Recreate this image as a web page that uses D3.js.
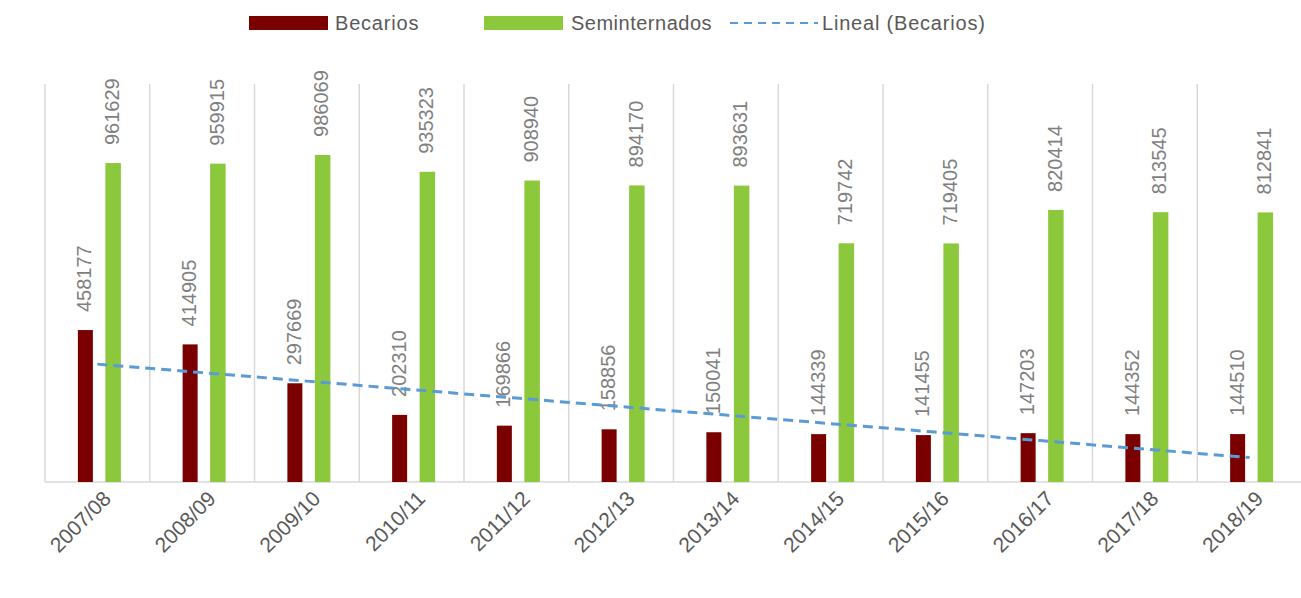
<!DOCTYPE html>
<html>
<head>
<meta charset="utf-8">
<script src="https://cdn.jsdelivr.net/npm/d3@7/dist/d3.min.js"></script>
<style>
  html, body { margin: 0; padding: 0; background: #ffffff; }
  svg { display: block; }
  text { font-family: "Liberation Sans", Arial, sans-serif; }
</style>
</head>
<body>
<svg id="chart" width="1301" height="598"></svg>
<script>
const categories = ["2007/08","2008/09","2009/10","2010/11","2011/12","2012/13","2013/14","2014/15","2015/16","2016/17","2017/18","2018/19"];
const becarios = [458177, 414905, 297669, 202310, 169866, 158856, 150041, 144339, 141455, 147203, 144352, 144510];
const seminternados = [961629, 959915, 986069, 935323, 908940, 894170, 893631, 719742, 719405, 820414, 813545, 812841];
const seriesNames = ["Becarios", "Seminternados", "Lineal (Becarios)"];
const yMax = 1200000;

const colors = { bec: "#7a0000", sem: "#8cc83c", trend: "#5b9bd5", grid: "#d9d9d9", label: "#7f7f7f", axis: "#595959" };

const svg = d3.select("#chart");
const plot = { left: 45, right: 1302, top: 84, bottom: 482 };

const x = d3.scaleBand().domain(categories).range([plot.left, plot.right]).padding(0);
const y = d3.scaleLinear().domain([0, yMax]).range([plot.bottom, plot.top]);
const bw = x.bandwidth();

// vertical gridlines at category boundaries
svg.append("g").selectAll("line")
  .data(categories)
  .join("line")
  .attr("x1", d => x(d)).attr("x2", d => x(d))
  .attr("y1", plot.top).attr("y2", plot.bottom)
  .attr("stroke", colors.grid).attr("stroke-width", 1.5);

// baseline
svg.append("line")
  .attr("x1", plot.left).attr("x2", plot.right)
  .attr("y1", plot.bottom).attr("y2", plot.bottom)
  .attr("stroke", colors.grid).attr("stroke-width", 1.5);

// bars
const barW = 15;
const becOff = -19.5, semOff = 8;
svg.append("g").selectAll("rect")
  .data(categories.map((c, i) => ({c, v: becarios[i]})))
  .join("rect")
  .attr("x", d => x(d.c) + bw / 2 + becOff)
  .attr("width", barW)
  .attr("y", d => y(d.v))
  .attr("height", d => y(0) - y(d.v))
  .attr("fill", colors.bec);

svg.append("g").selectAll("rect")
  .data(categories.map((c, i) => ({c, v: seminternados[i]})))
  .join("rect")
  .attr("x", d => x(d.c) + bw / 2 + semOff)
  .attr("width", barW + 0.5)
  .attr("y", d => y(d.v))
  .attr("height", d => y(0) - y(d.v))
  .attr("fill", colors.sem);

// data labels (rotated)
function labels(vals, off, w) {
  svg.append("g").selectAll("text")
    .data(categories.map((c, i) => ({c, v: vals[i]})))
    .join("text")
    .attr("transform", d => `translate(${x(d.c) + bw / 2 + off + w / 2 + 6},${y(d.v) - 18}) rotate(-90)`)
    .attr("text-anchor", "start")
    .attr("font-size", 20)
    .attr("fill", colors.label)
    .text(d => d.v);
}
labels(becarios, becOff, barW);
labels(seminternados, semOff, barW);

// linear trendline for Becarios (least squares over category index)
const n = becarios.length;
const xs = d3.range(1, n + 1);
const mx = d3.mean(xs), my = d3.mean(becarios);
const slope = d3.sum(xs.map((xi, i) => (xi - mx) * (becarios[i] - my))) / d3.sum(xs.map(xi => (xi - mx) ** 2));
const icpt = my - slope * mx;
const trend = categories.map((c, i) => ({c, v: icpt + slope * (i + 1)}));
svg.append("path")
  .datum(trend)
  .attr("fill", "none")
  .attr("stroke", colors.trend)
  .attr("stroke-width", 3)
  .attr("stroke-dasharray", "10,6")
  .attr("d", d3.line().x(d => x(d.c) + bw / 2).y(d => y(d.v)));

// x axis labels (rotated -45)
svg.append("g").selectAll("text")
  .data(categories)
  .join("text")
  .attr("transform", d => `translate(${x(d) + bw / 2 + 15},${plot.bottom + 18}) rotate(-45)`)
  .attr("text-anchor", "end")
  .attr("font-size", 21)
  .attr("fill", colors.axis)
  .text(d => d);

// legend
const lg = svg.append("g");
const ly = 23;
lg.append("rect").attr("x", 249).attr("y", ly - 7).attr("width", 79).attr("height", 14).attr("fill", colors.bec);
lg.append("text").attr("x", 335).attr("y", ly + 7).attr("font-size", 20).attr("letter-spacing", 0.8).attr("fill", colors.axis).text(seriesNames[0]);
lg.append("rect").attr("x", 484).attr("y", ly - 7).attr("width", 79).attr("height", 14).attr("fill", colors.sem);
lg.append("text").attr("x", 571).attr("y", ly + 7).attr("font-size", 20).attr("letter-spacing", 0.5).attr("fill", colors.axis).text(seriesNames[1]);
lg.append("line").attr("x1", 730).attr("x2", 818).attr("y1", ly).attr("y2", ly)
  .attr("stroke", colors.trend).attr("stroke-width", 2).attr("stroke-dasharray", "8,6");
lg.append("text").attr("x", 822).attr("y", ly + 7).attr("font-size", 20).attr("letter-spacing", 0.8).attr("fill", colors.axis).text(seriesNames[2]);
</script>
</body>
</html>
